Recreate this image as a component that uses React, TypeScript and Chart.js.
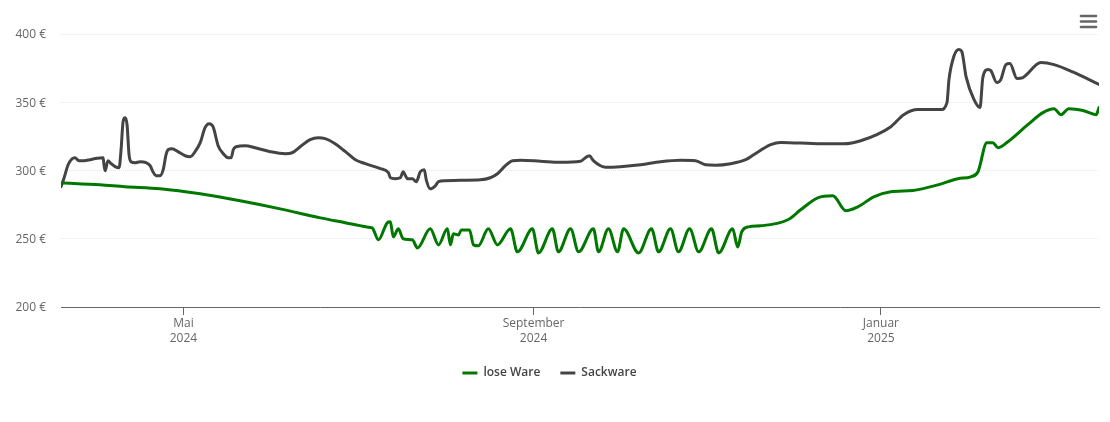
import { Chart, registerables } from "chart.js";
import React, { useEffect, useRef } from "react";

Chart.register(...registerables);

// x values are days since 19 March 2024
const looseDays = [
  0, 13.7, 22.5, 34.8, 48.9, 62.9, 77, 91.1, 100.2, 105, 108.5, 109.3, 111.5, 114.6, 115.7, 116.7, 118.5, 120.2, 123.4, 125.2, 129.7,
  132.6, 135.7, 136.8, 137.8, 139.6, 140.6, 143.5, 144.9, 146.6, 150.1, 153.3, 157.9, 160.3, 165.6, 167.7, 172.6,
  174.7, 179, 181.8, 187, 188.8, 192.3, 195.5, 197.6, 202.9, 207.4, 209.9, 214.1, 216.9, 220.8, 224, 228.5, 231,
  235.9, 237.7, 239.1, 241.5, 245.8, 255.3, 259.8, 265.8, 271.1, 275.7, 279.9, 285.5, 291.5, 299.2, 308, 315, 319.6,
  322.1, 325.2, 327.3, 329.1, 332.6, 339.6, 344.9, 348.8, 351.2, 354, 359, 363.6, 364.6,
];
const looseValues = [
  291, 289.5, 288.1, 286.6, 282.9, 277.8, 271.9, 265.3, 261.6, 259.6, 258.3, 258, 249.2, 261.7, 262.4, 251.4, 257.3, 249.9, 249.2, 243.3,
  257.3, 245.5, 257.3, 245.5, 253.6, 252.8, 256.5, 256.5, 245.5, 244.8, 257.3, 245.5, 257.3, 240.4, 257.3, 239.6,
  257.3, 240.4, 257.3, 240.4, 257.3, 240.4, 257.3, 240.4, 257.3, 239.6, 257.3, 240.4, 257.3, 240.4, 257.3, 240.4,
  257.3, 239.6, 257.3, 244, 255, 258.7, 259.5, 263.9, 271.2, 280, 281.5, 270.5, 273.4, 280.7, 284.4, 285.4, 289.5,
  294, 295.4, 299.1, 320.4, 320.4, 316.7, 321.1, 333.6, 342.4, 345.3, 340.9, 345.3, 343.9, 340.9, 346.1,
];
const sackDays = [
  0, 1.1, 2.5, 3.9, 4.9, 6.3, 8.1, 10.2, 12.7, 14.8, 15.1, 15.5, 16.5, 17.6, 19, 20.4, 21.1, 21.8, 22.5, 23.2, 23.9,
  24.6, 26, 27.8, 29.9, 31.3, 32.3, 33.4, 34.8, 35.9, 36.9, 37.6, 39, 41.1, 43.6, 45.4, 47.1, 48.9, 50.6, 52, 53.4,
  55.2, 57, 58.7, 59.8, 60.5, 61.5, 64.7, 68.2, 73.5, 78.8, 81.2, 84, 87.5, 90.4, 92.8, 96.3, 99.9, 103.4, 106.9,
  112.2, 115, 115.7, 117.4, 119.2, 120.2, 121, 121.7, 123.4, 124.8, 126.2, 127.6, 128.3, 129.7, 131.5, 132.6, 135,
  140.3, 147.3, 150.8, 153.3, 156.1, 158.6, 161.4, 168.4, 175.4, 182.5, 184.2, 185.6, 187, 189.5, 191.3, 196.5,
  203.6, 210.6, 217.6, 222.9, 226.4, 230, 235.2, 240.5, 243.3, 249.3, 252.8, 266.9, 275, 280.9, 291.5, 296, 301, 309,
  311.2, 311.9, 313.6, 315.4, 316.4, 317.9, 320.7, 322.8, 323.8, 325.6, 326.6, 328.7, 330.1, 331.9, 333.3, 335.8,
  337.9, 344.2, 348.8, 355.8, 364.6,
];
const sackValues = [
  288.1, 294.7, 304.2, 308.6, 309.4, 307.2, 307.2, 307.9, 309, 309.4, 304.2, 299.8, 307.2, 305, 302.8, 302, 315.2,
  335.8, 338.7, 333.6, 311.6, 306.4, 305.7, 306.4, 305.7, 303.5, 299.1, 296.2, 296.2, 300.6, 311.6, 315.2, 316, 313.8,
  310.8, 310.1, 313.8, 320.4, 331.4, 334.3, 332.1, 318.2, 312.3, 309.4, 309.4, 315.2, 317.4, 318.2, 316.7, 313.8,
  312.3, 313, 317.4, 322.6, 324, 323.3, 319.6, 313.8, 307.9, 305, 301.3, 298.4, 294.7, 294, 294.7, 299.1, 296.2, 294,
  294, 291.8, 299.1, 300.6, 293.2, 286.6, 288.8, 291.8, 292.5, 292.9, 293.2, 294.7, 297.6, 303.5, 307.2, 307.5, 306.8,
  306, 306.8, 309.4, 310.8, 307.2, 303.5, 302.4, 302.8, 304.2, 306.4, 307.5, 307.2, 304.2, 303.9, 305, 307.9, 311.6,
  318.9, 320.6, 319.6, 319.6, 321.8, 332.1, 340.9, 344.6, 344.6, 349.7, 366.6, 383.5, 388.6, 387.2, 368.8, 351.9,
  346.1, 368.1, 374, 373.2, 364.4, 366.6, 377.6, 378.4, 367.4, 368.1, 379.1, 377.6, 371.8, 363,
];
const monthTicks = [43, 166, 288];
const monthLabels = [["Mai", "2024"], ["September", "2024"], ["Januar", "2025"]];
const seriesNames = ["lose Ware", "Sackware"];

const FONT = "'Open Sans', sans-serif";

const menuIcon = {
  id: "menuIcon",
  afterDraw(chart: Chart) {
    const ctx = chart.ctx;
    ctx.save();
    ctx.strokeStyle = "#666666";
    ctx.lineWidth = 2.6;
    ctx.lineCap = "round";
    for (const y of [16, 21.5, 27]) {
      ctx.beginPath();
      ctx.moveTo(1081, y);
      ctx.lineTo(1096, y);
      ctx.stroke();
    }
    ctx.restore();
  },
};

const App = () => {
  const chartRef = useRef<HTMLCanvasElement | null>(null);

  useEffect(() => {
    if (chartRef.current) {
      const chart = new Chart(chartRef.current, {
        type: "line",
        plugins: [menuIcon],
        data: {
          datasets: [
            {
              label: seriesNames[0],
              data: looseDays.map((x, i) => ({ x, y: looseValues[i] })),
              borderColor: "#007800",
              backgroundColor: "#007800",
              borderWidth: 3,
              borderCapStyle: "round",
            },
            {
              label: seriesNames[1],
              data: sackDays.map((x, i) => ({ x, y: sackValues[i] })),
              borderColor: "#444444",
              backgroundColor: "#444444",
              borderWidth: 3,
              borderCapStyle: "round",
            },
          ],
        },
        options: {
          animation: false,
          responsive: false,
          layout: { padding: { top: 34, right: 11, bottom: 33, left: 0 } },
          elements: {
            point: { radius: 0 },
            line: { cubicInterpolationMode: "monotone", borderJoinStyle: "round" },
          },
          scales: {
            x: {
              type: "linear",
              min: 0,
              max: 364.6,
              border: { color: "#666666", width: 1 },
              grid: { drawOnChartArea: false, drawTicks: true, tickLength: 8, color: "#666666" },
              afterBuildTicks: (axis) => {
                axis.ticks = monthTicks.map((value) => ({ value }));
              },
              afterFit: (axis) => {
                axis.height = 40;
              },
              ticks: {
                autoSkip: false,
                maxRotation: 0,
                padding: 1,
                color: "#666666",
                font: { family: FONT, size: 12, lineHeight: 1.25 },
                callback: (value) => monthLabels[monthTicks.indexOf(Number(value))],
              },
            },
            y: {
              min: 200,
              max: 400,
              border: { display: false, dash: [1, 1] },
              grid: { color: "#e8e8e8", tickLength: 0, drawTicks: false, lineWidth: 1 },
              afterFit: (axis) => {
                axis.width = 61;
              },
              ticks: {
                stepSize: 50,
                padding: 15,
                labelOffset: 1,
                color: "#666666",
                font: { family: FONT, size: 12 },
                callback: (value) => `${value} €`,
              },
            },
          },
          plugins: {
            tooltip: { enabled: false },
            legend: {
              position: "bottom",
              labels: {
                usePointStyle: true,
                pointStyle: "line",
                pointStyleWidth: 15,
                padding: 20,
                color: "#444444",
                font: { family: FONT, size: 12, weight: "600" },
              },
            },
          },
        },
      });

      return () => chart.destroy();
    }
  }, []);

  return (
    <div style={{ position: "fixed", left: 0, top: 0, width: 1110, height: 422, background: "#fff" }}>
      <canvas ref={chartRef} width={1110} height={422} style={{ display: "block" }} />
    </div>
  );
};

export default App;
